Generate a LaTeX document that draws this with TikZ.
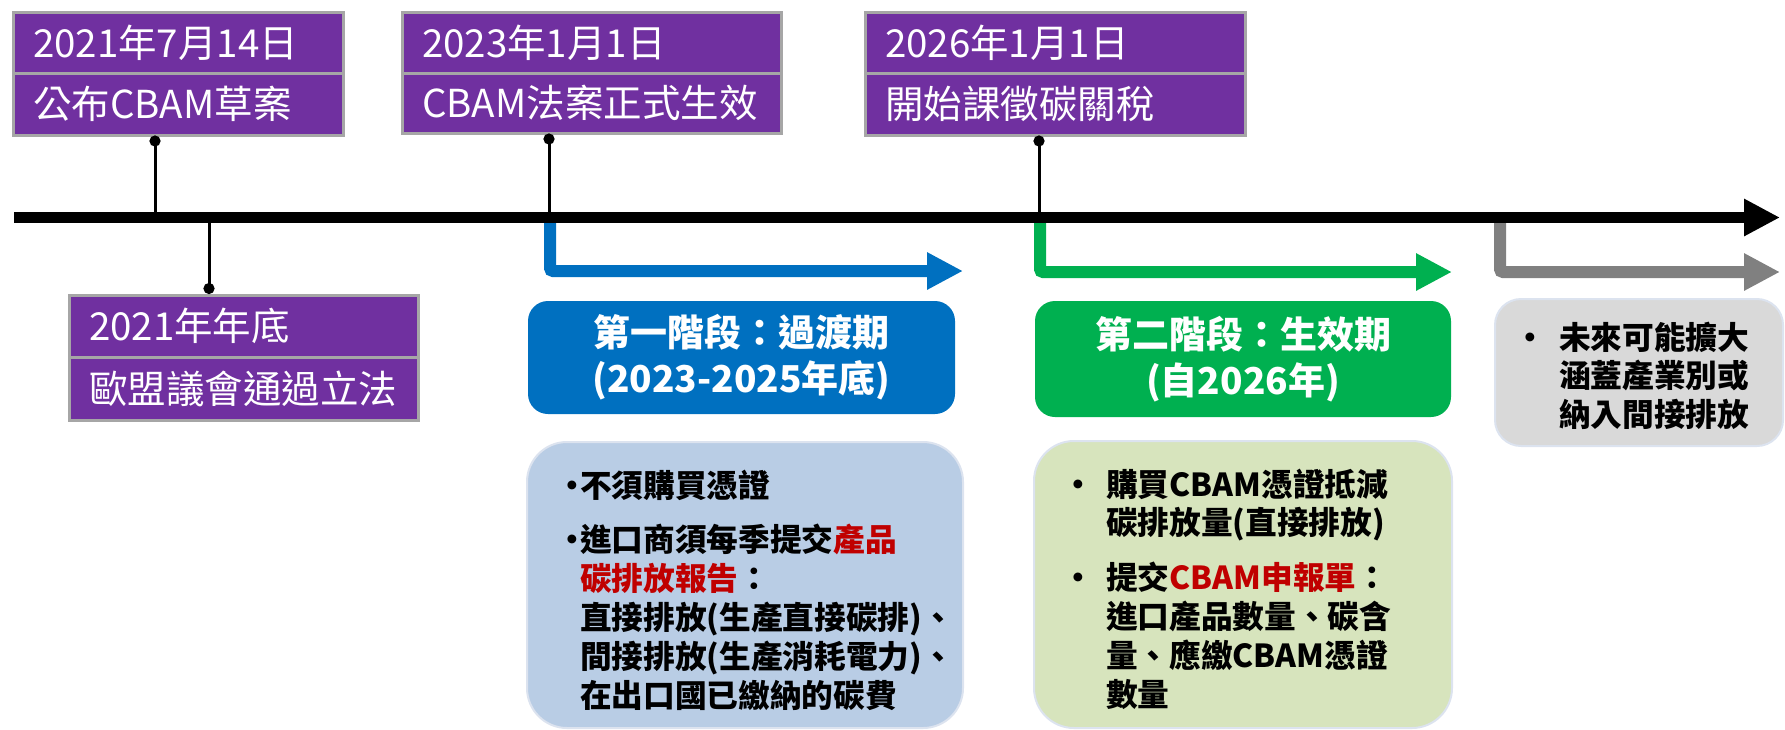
\documentclass[tikz,border=0pt]{standalone}
\usepackage{fontspec}
\setmainfont{Noto Sans CJK TC}
\usetikzlibrary{arrows.meta}
\definecolor{purp}{HTML}{7030A0}
\definecolor{bgray}{HTML}{A6A6A6}
\definecolor{pblue}{HTML}{0070C0}
\definecolor{pgreen}{HTML}{00B050}
\definecolor{pgray}{HTML}{808080}
\definecolor{lblue}{HTML}{B9CDE5}
\definecolor{lgreen}{HTML}{D7E4BD}
\definecolor{lgray}{HTML}{D9D9D9}
\definecolor{edgec}{HTML}{DCE3EF}
\definecolor{hred}{HTML}{C00000}
\newcommand{\bl}[1]{\makebox[#1][l]{•}}
\begin{document}
\begin{tikzpicture}[x=1pt,y=-1pt,
  purpbox/.style={draw=bgray, line width=3pt, fill=purp, text=white, anchor=north west,
    outer sep=0pt, inner xsep=20pt, inner ysep=0pt, align=left,
    font=\fontsize{38.5}{40}\selectfont},
  hdr/.style={rounded corners=20pt, text=white, anchor=north west, outer sep=0pt,
    inner sep=0pt, align=center, font=\bfseries\fontsize{37}{46}\selectfont},
  bodybox/.style={draw=edgec, line width=2pt, anchor=north west, outer sep=0pt, inner sep=0pt},
  bodytext/.style={anchor=base west, inner sep=0pt, outer sep=0pt,
    font=\bfseries\fontsize{31.7}{38}\selectfont},
  phase/.style={line width=12pt, rounded corners=3pt, -{Triangle[length=36pt,width=35pt]}},
  conn/.style={line width=3pt, -{Circle[length=11pt,width=11pt]}}
]
\useasboundingbox (0,0) rectangle (1785,729);

% lower content boxes
\node[bodybox, fill=lblue, rounded corners=40pt, minimum width=436pt, minimum height=286pt] (bb1) at (527,442) {};
\node[bodybox, fill=lgreen, rounded corners=40pt, minimum width=418pt, minimum height=287pt] (bb2) at (1034,441) {};
\node[bodybox, fill=lgray, rounded corners=26pt, minimum width=288pt, minimum height=147pt] (bb3) at (1495,299) {};

% phase headers
\node[hdr, fill=pblue, minimum width=427pt, minimum height=113pt] (h1) at (528,301) {第一階段：過渡期\\(2023-2025年底)};
\node[hdr, fill=pgreen, minimum width=416pt, minimum height=116pt] (h2) at (1035,301) {第二階段：生效期\\(自2026年)};

% body texts
\node[bodytext] (t1) at (556,497) {\begin{tabular}[t]{@{}l@{}l@{}}
\bl{24pt} & 不須購買憑證\\[16pt]
\bl{24pt} & 進口商須每季提交\textcolor{hred}{產品}\\
 & \textcolor{hred}{碳排放報告}：\\
 & 直接排放(生產直接碳排)、\\
 & 間接排放(生產消耗電力)、\\
 & 在出口國已繳納的碳費
\end{tabular}};
\node[bodytext] (t2) at (1062,496) {\begin{tabular}[t]{@{}l@{}l@{}}
\bl{44pt} & 購買CBAM憑證抵減\\
 & 碳排放量(直接排放)\\[16pt]
\bl{44pt} & 提交\textcolor{hred}{CBAM申報單}：\\
 & 進口產品數量、碳含\\
 & 量、應繳CBAM憑證\\
 & 數量
\end{tabular}};
\node[bodytext] (t3) at (1514,349) {\begin{tabular}[t]{@{}l@{}l@{}}
\bl{45pt} & 未來可能擴大\\
 & 涵蓋產業別或\\
 & 納入間接排放
\end{tabular}};

% timeline coordinates
\coordinate (tl0) at (14,217.5);
\coordinate (tl1) at (1780,217.5);
\coordinate (ta) at (155,217.5);
\coordinate (tb) at (209,217.5);
\coordinate (tc) at (549,217.5);
\coordinate (td) at (1039,217.5);
\coordinate (pa0) at (550,217.5);
\coordinate (pa1) at (963,271);
\coordinate (pb0) at (1040,217.5);
\coordinate (pb1) at (1452,272);
\coordinate (pc0) at (1500,221);
\coordinate (pc1) at (1780,272);

% phase arrows
\draw[phase, pblue] (pa0) |- (pa1);
\draw[phase, pgreen] (pb0) |- (pb1);
\draw[phase, pgray, line cap=round] (pc0) |- (pc1);

% main timeline
\draw[line width=11pt, -{Triangle[length=36pt,width=35pt]}] (tl0) -- (tl1);

% event boxes
\node[purpbox, text width=290pt, minimum height=61pt] (e1a) at (13,12) {2021年7月14日};
\node[purpbox, text width=290pt, minimum height=62pt] (e1b) at (13,73) {公布CBAM草案};
\node[purpbox, text width=339pt, minimum height=61pt] (e2a) at (402,12) {2023年1月1日};
\node[purpbox, text width=339pt, minimum height=60pt] (e2b) at (402,73) {CBAM法案正式生效};
\node[purpbox, text width=340pt, minimum height=61pt] (e3a) at (865,12) {2026年1月1日};
\node[purpbox, text width=340pt, minimum height=62pt] (e3b) at (865,73) {開始課徵碳關稅};
\node[purpbox, text width=309pt, minimum height=62pt] (e4a) at (69,295) {2021年年底};
\node[purpbox, text width=309pt, minimum height=63pt] (e4b) at (69,357) {歐盟議會通過立法};

% connector end points at the boxes
\coordinate (d1) at (155,135.5);
\coordinate (d2) at (549,133.5);
\coordinate (d3) at (1039,135.5);
\coordinate (d4) at (209,294);

\draw[conn] (ta) -- (d1);
\draw[conn] (tc) -- (d2);
\draw[conn] (td) -- (d3);
\draw[conn] (tb) -- (d4);
\end{tikzpicture}
\end{document}
